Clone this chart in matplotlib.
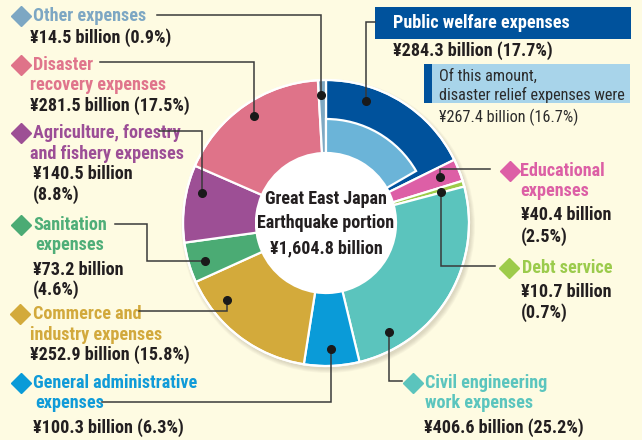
import matplotlib
matplotlib.use('Agg')
import matplotlib.pyplot as plt
from matplotlib.patches import Circle, Rectangle
from matplotlib import font_manager

# data (billion yen, share %)
categories = ['Public welfare expenses', 'Educational expenses', 'Debt service',
              'Civil engineering work expenses', 'General administrative expenses',
              'Commerce and industry expenses', 'Sanitation expenses',
              'Agriculture, forestry and fishery expenses', 'Disaster recovery expenses',
              'Other expenses']
amounts = [284.3, 40.4, 10.7, 406.6, 100.3, 252.9, 73.2, 140.5, 281.5, 14.5]
shares = [17.7, 2.5, 0.7, 25.2, 6.3, 15.8, 4.6, 8.8, 17.5, 0.9]
relief_amount = 267.4
relief_share = 16.7
total_text = '¥1,604.8 billion'

colors = ['#00529C', '#DD5FA6', '#9DCB4A', '#5BC4BD', '#0A9BD8',
          '#D3AA3B', '#4BAB74', '#9D4F95', '#DF7389', '#7FA9C3']
text_colors = ['#FFFFFF', '#DC5FA5', '#9BCB4C', '#5BC5BE', '#109BD8',
               '#D2A93C', '#4FAE78', '#9C4E96', '#E0758C', '#7DA7C3']
relief_color = '#6BB4D8'
bg = '#FEFBE2'

# look for a condensed face
entries = font_manager.fontManager.ttflist
cond = {f.name for f in entries if f.stretch in ('condensed', 'semi-condensed')
        or 'Condensed' in f.name or 'Narrow' in f.name}
FONT, STRETCH, SCALE = ['Liberation Sans', 'DejaVu Sans'], 'normal', 0.86
for name in ['Roboto Condensed', 'Liberation Sans Narrow', 'Open Sans Condensed',
             'Noto Sans Condensed', 'Noto Sans', 'DejaVu Sans Condensed', 'DejaVu Sans']:
    if name in cond:
        FONT, STRETCH, SCALE = [name, 'DejaVu Sans'], 'condensed', 1.0
        break

fig = plt.figure(figsize=(6.42, 4.40), dpi=100, facecolor=bg)
ax = fig.add_axes([0, 0, 1, 1])
ax.set_facecolor(bg)

cx, cy = 326, 223
R, r_hole, r_relief = 143, 70, 104

# soft shadow
for k in range(6):
    ax.add_patch(Circle((cx + 2, cy + 3), R + 4 - k * 0.8, color='#8a8470', alpha=0.05, lw=0))

wedges, _ = ax.pie(amounts, colors=colors, startangle=-90, counterclock=True,
                   radius=R, center=(cx, cy),
                   wedgeprops=dict(width=R - r_hole, edgecolor='white', linewidth=1.6))
inner, _ = ax.pie([relief_amount, sum(amounts) - relief_amount], colors=[relief_color, 'none'],
                  startangle=-90, counterclock=True, radius=r_relief, center=(cx, cy),
                  wedgeprops=dict(width=r_relief - r_hole, edgecolor='white', linewidth=1.6))
inner[1].set_visible(False)
ax.add_patch(Circle((cx, cy), R, fill=False, edgecolor='white', lw=1.5))
ax.add_patch(Circle((cx, cy), r_hole, color='white', lw=0, zorder=3))

TXT = dict(family=FONT, fontstretch=STRETCH)
FS = 13.1 * SCALE

for i, line in enumerate(['Great East Japan', 'Earthquake portion', total_text]):
    ax.text(cx, cy - 24 + i * 24.5, line, ha='center', va='center', fontsize=13.0 * SCALE,
            fontweight='bold', color='#231F20', zorder=4, **TXT)

ax.set_xlim(0, 642)
ax.set_ylim(440, 0)
ax.axis('off')

# leader lines: dot first, then corners
leaders = [
    [(366, 101), (366, 22), (375, 22)],
    [(440, 177), (440, 169), (490, 169)],
    [(441, 192), (441, 266), (495, 266)],
    [(389, 332), (389, 381), (402, 381)],
    [(331, 349), (331, 402), (102, 402)],
    [(227, 300), (227, 311), (139, 311)],
    [(205, 261), (147, 261), (147, 224), (115, 224)],
    [(202, 193), (202, 131), (159, 131)],
    [(254, 116), (254, 62), (100, 62)],
    [(321, 95), (321, 15), (157, 15)],
]
for pts in leaders:
    xs, ys = zip(*pts)
    ax.plot(xs, ys, color='#3a3a3a', lw=1.1, zorder=5, solid_joinstyle='miter')
    ax.plot(xs[0], ys[0], 'o', color='#1a1a1a', ms=5.5, zorder=6)


def vtext(i):
    return f'¥{amounts[i]} billion', f'({shares[i]}%)'


# labels: diamond position, title lines (text, x, y), value lines (text, x, y)
labels = {
    9: ((21, 16), [('Other expenses', 33, 16)], [(' '.join(vtext(9)), 30, 38)]),
    8: ((21, 65), [('Disaster', 33, 65), ('recovery expenses', 30, 85)],
        [(' '.join(vtext(8)), 30, 106)]),
    7: ((21, 133), [('Agriculture, forestry', 33, 133), ('and fishery expenses', 30, 154)],
        [(vtext(7)[0], 33, 174), (vtext(7)[1], 33, 195)]),
    6: ((21, 225), [('Sanitation', 33, 225), ('expenses', 35, 245)],
        [(vtext(6)[0], 33, 270), (vtext(6)[1], 33, 290)]),
    5: ((20, 314), [('Commerce and', 33, 314), ('industry expenses', 30, 335)],
        [(' '.join(vtext(5)), 30, 355)]),
    4: ((21, 383), [('General administrative', 33, 383), ('expenses', 35, 403)],
        [(' '.join(vtext(4)), 33, 428)]),
    1: ((510, 171), [('Educational', 520, 171), ('expenses', 520, 191)],
        [(vtext(1)[0], 521, 215), (vtext(1)[1], 521, 237)]),
    2: ((509, 268), [('Debt service', 522, 268)],
        [(vtext(2)[0], 521, 292), (vtext(2)[1], 521, 313)]),
    3: ((413, 383), [('Civil engineering', 425, 383), ('work expenses', 425, 403)],
        [(' '.join(vtext(3)), 424, 428)]),
}
for i, (dpos, titles, values) in labels.items():
    ax.plot(*dpos, 'D', color=colors[i] if i != 9 else text_colors[i], ms=10, zorder=6)
    for t, x, y in titles:
        ax.text(x, y, t, ha='left', va='center', fontsize=FS, fontweight='bold',
                color=text_colors[i], **TXT)
    for t, x, y in values:
        ax.text(x, y, t, ha='left', va='center', fontsize=FS, fontweight='bold',
                color='#231F20', **TXT)

# public welfare box
ax.add_patch(Rectangle((375, 7), 256, 32, color=colors[0], lw=0, zorder=4))
ax.text(393, 23, categories[0], ha='left', va='center', fontsize=FS, fontweight='bold',
        color='white', zorder=5, **TXT)
ax.text(393, 51, ' '.join(vtext(0)), ha='left', va='center', fontsize=FS,
        fontweight='bold', color='#231F20', **TXT)
ax.add_patch(Rectangle((424, 64), 206, 39, color='#A8D4EA', lw=0, zorder=4))
ax.add_patch(Rectangle((424, 64), 8, 39, color=colors[0], lw=0, zorder=5))
ax.text(439, 76, 'Of this amount,', ha='left', va='center', fontsize=11.7 * SCALE,
        color='#2b2b2b', zorder=5, **TXT)
ax.text(439, 95, 'disaster relief expenses were', ha='left', va='center',
        fontsize=11.7 * SCALE, color='#2b2b2b', zorder=5, **TXT)
ax.text(439, 117, f'¥{relief_amount} billion ({relief_share}%)', ha='left', va='center',
        fontsize=11.7 * SCALE, color='#2b2b2b', **TXT)

fig.savefig('out.png', dpi=100, facecolor=bg)
